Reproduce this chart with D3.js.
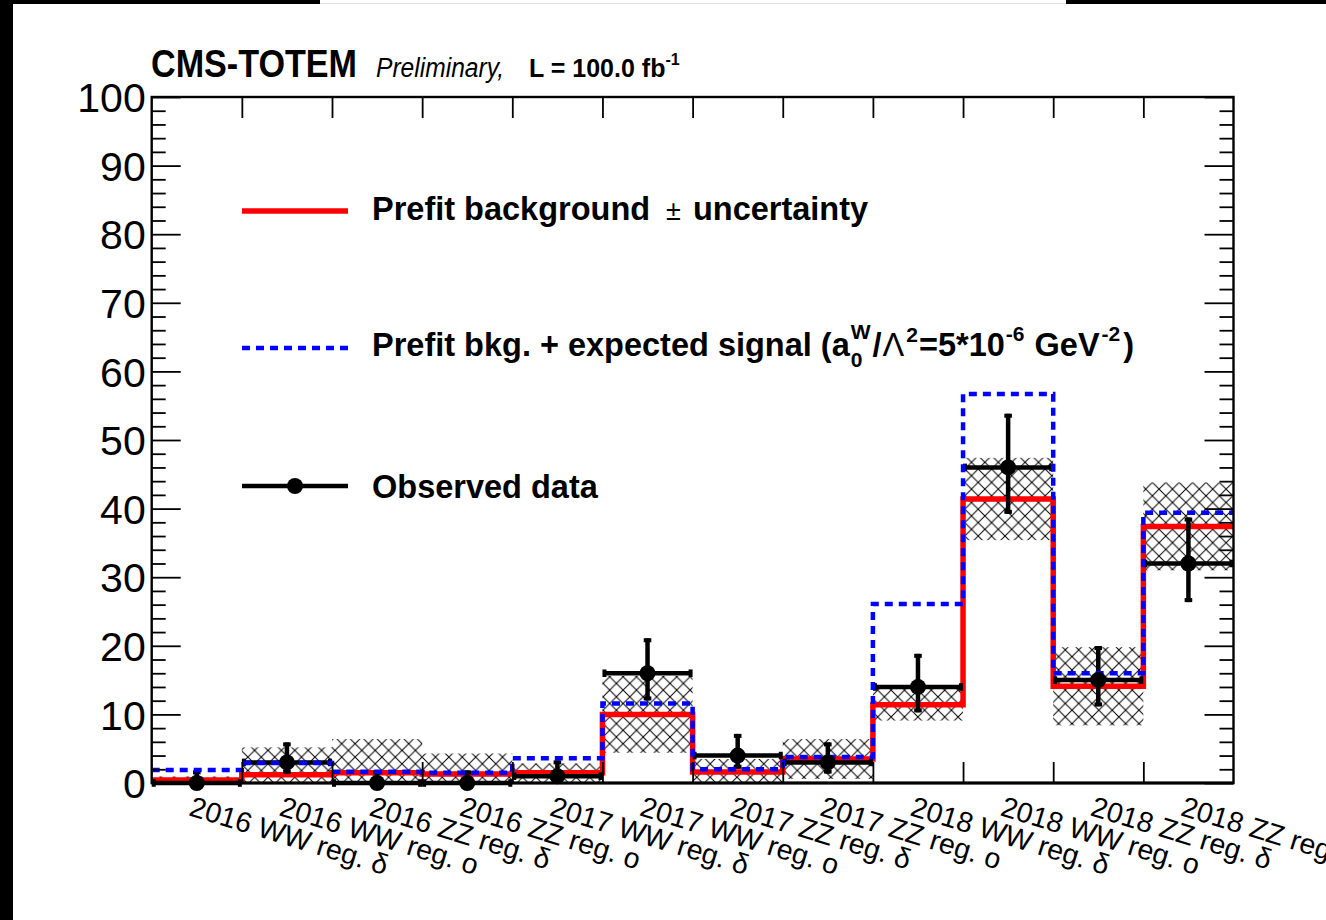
<!DOCTYPE html>
<html>
<head>
<meta charset="utf-8">
<script src="https://cdn.jsdelivr.net/npm/d3@7"></script>
<style>
  html, body { margin: 0; padding: 0; background: #fff; }
  svg { display: block; }
  text { font-family: "Liberation Sans", Arial, Helvetica, sans-serif; fill: #000; }
</style>
</head>
<body>
<svg id="chart" width="1326" height="920"></svg>
<script>
// Signal-region yields per category
const categories = [
  "2016 WW reg. δ", "2016 WW reg. o", "2016 ZZ reg. δ", "2016 ZZ reg. o",
  "2017 WW reg. δ", "2017 WW reg. o", "2017 ZZ reg. δ", "2017 ZZ reg. o",
  "2018 WW reg. δ", "2018 WW reg. o", "2018 ZZ reg. δ", "2018 ZZ reg. o"
];
const prefitBkg     = [0.45, 1.2, 1.5, 1.3, 1.5, 10.0, 1.6, 3.5, 11.4, 41.4, 14.1, 37.4];
const prefitBkgUnc  = [0.5, 4.0, 4.9, 3.0, 1.35, 5.6, 1.9, 2.9, 2.3, 6.0, 5.7, 6.4];
const bkgPlusSignal = [1.9, 2.9, 1.65, 1.5, 3.6, 11.6, 2.0, 3.8, 26.1, 56.7, 16.0, 39.4];
const observed      = [0, 3, 0, 0, 1, 16, 4, 3, 14, 46, 15, 32];
const observedErrLo = [0, 1.63, 0, 0, 0.83, 3.96, 1.91, 1.63, 3.70, 6.76, 3.83, 5.63];
const observedErrHi = [1.84, 2.92, 1.84, 1.84, 2.30, 5.10, 3.16, 2.92, 4.83, 7.83, 4.96, 6.70];
const yMajorTicks = [0, 10, 20, 30, 40, 50, 60, 70, 80, 90, 100];

const svg = d3.select("#chart");
const W = 1326, H = 920;
const frame = { left: 151.7, right: 1233.5, top: 97, bottom: 783 };

// page edges
svg.append("rect").attr("x", 0).attr("y", 0).attr("width", W).attr("height", H).attr("fill", "#fff");
svg.append("rect").attr("x", 0).attr("y", 0).attr("width", 13).attr("height", H).attr("fill", "#000");
svg.append("rect").attr("x", 0).attr("y", 0).attr("width", 320).attr("height", 4).attr("fill", "#000");
svg.append("rect").attr("x", 1066).attr("y", 0).attr("width", W - 1066).attr("height", 4).attr("fill", "#000");
svg.append("line").attr("x1", 320).attr("x2", 1066).attr("y1", 3.5).attr("y2", 3.5)
  .attr("stroke", "#e2e2e2").attr("stroke-width", 1);

const x = d3.scaleBand().domain(categories).range([frame.left, frame.right]).padding(0);
const xEdge = d3.scaleLinear().domain([0, categories.length]).range([frame.left, frame.right]);
const y = d3.scaleLinear().domain([0, 100]).range([frame.bottom, frame.top]);
const bw = x.bandwidth();

// cross-hatch pattern for the background uncertainty band
const defs = svg.append("defs");
const pat = defs.append("pattern").attr("id", "xhatch").attr("patternUnits", "userSpaceOnUse")
  .attr("width", 13.4).attr("height", 13.4);
pat.append("path").attr("d", "M0,0L13.4,13.4M13.4,0L0,13.4")
  .attr("stroke", "#000").attr("stroke-width", 1).attr("fill", "none");
defs.append("clipPath").attr("id", "plotclip").append("rect")
  .attr("x", frame.left).attr("y", frame.top)
  .attr("width", frame.right - frame.left).attr("height", frame.bottom - frame.top);

const plot = svg.append("g").attr("clip-path", "url(#plotclip)");

// uncertainty band
plot.selectAll("rect.unc").data(categories).join("rect").attr("class", "unc")
  .attr("x", d => x(d))
  .attr("width", bw)
  .attr("y", (d, i) => y(prefitBkg[i] + prefitBkgUnc[i]))
  .attr("height", (d, i) => y(Math.max(0, prefitBkg[i] - prefitBkgUnc[i])) - y(prefitBkg[i] + prefitBkgUnc[i]))
  .attr("fill", "url(#xhatch)");

// step outline helper
function stepPoints(vals) {
  const pts = [];
  vals.forEach((v, i) => { pts.push([xEdge(i), y(v)]); pts.push([xEdge(i + 1), y(v)]); });
  return pts;
}
const line = d3.line();

plot.append("path").attr("d", line(stepPoints(prefitBkg)))
  .attr("fill", "none").attr("stroke", "#ff0000").attr("stroke-width", 5.5);

// observed data: horizontal bin-width bars and Poisson error bars
const dataG = svg.append("g");
const cap = 3.8;
const dw = 4.5;
categories.forEach((c, i) => {
  const x0 = x(c), x1 = x(c) + bw, xc = x(c) + bw / 2, yc = y(observed[i]);
  dataG.append("line").attr("x1", x0 + 1).attr("x2", x1 - 1).attr("y1", yc).attr("y2", yc)
    .attr("stroke", "#000").attr("stroke-width", dw);
  dataG.append("line").attr("x1", x0 + 2).attr("x2", x0 + 2).attr("y1", yc - cap).attr("y2", yc + cap)
    .attr("stroke", "#000").attr("stroke-width", 4);
  dataG.append("line").attr("x1", x1 - 2).attr("x2", x1 - 2).attr("y1", yc - cap).attr("y2", yc + cap)
    .attr("stroke", "#000").attr("stroke-width", 4);
  const yHi = y(observed[i] + observedErrHi[i]);
  dataG.append("line").attr("x1", xc).attr("x2", xc).attr("y1", yc).attr("y2", yHi)
    .attr("stroke", "#000").attr("stroke-width", dw);
  dataG.append("line").attr("x1", xc - cap).attr("x2", xc + cap).attr("y1", yHi + 2).attr("y2", yHi + 2)
    .attr("stroke", "#000").attr("stroke-width", 4);
  if (observedErrLo[i] > 0) {
    const yLo = y(observed[i] - observedErrLo[i]);
    dataG.append("line").attr("x1", xc).attr("x2", xc).attr("y1", yc).attr("y2", yLo)
      .attr("stroke", "#000").attr("stroke-width", dw);
    dataG.append("line").attr("x1", xc - cap).attr("x2", xc + cap).attr("y1", yLo - 2).attr("y2", yLo - 2)
      .attr("stroke", "#000").attr("stroke-width", 4);
  }
});

svg.append("path").attr("d", line(stepPoints(bkgPlusSignal)))
  .attr("fill", "none").attr("stroke", "#0000ff").attr("stroke-width", 4.5)
  .attr("stroke-dasharray", "8,6");

svg.append("g").selectAll("circle").data(categories).join("circle")
  .attr("cx", d => x(d) + bw / 2)
  .attr("cy", (d, i) => y(observed[i]))
  .attr("r", 8).attr("fill", "#000");

// axes
const axisStyle = g => {
  g.select(".domain").remove();
  g.selectAll(".tick line").attr("stroke", "#000").attr("stroke-width", 1.8);
};
const yMinor = d3.range(0, 101, 2).filter(v => v % 10 !== 0);

svg.append("g").attr("transform", `translate(${frame.left},0)`)
  .call(d3.axisLeft(y).tickValues(yMajorTicks).tickSize(-29).tickFormat(d3.format("d")))
  .call(axisStyle)
  .call(g => g.selectAll(".tick text").attr("font-size", 41).attr("font-family", "Liberation Sans, Arial, sans-serif")
    .attr("x", -6).attr("text-anchor", "end").attr("dy", "0.36em"));
svg.append("g").attr("transform", `translate(${frame.left},0)`)
  .call(d3.axisLeft(y).tickValues(yMinor).tickSize(-14).tickFormat(""))
  .call(axisStyle);
svg.append("g").attr("transform", `translate(${frame.right},0)`)
  .call(d3.axisRight(y).tickValues(yMajorTicks).tickSize(-29).tickFormat(""))
  .call(axisStyle);
svg.append("g").attr("transform", `translate(${frame.right},0)`)
  .call(d3.axisRight(y).tickValues(yMinor).tickSize(-14).tickFormat(""))
  .call(axisStyle);

const innerEdges = d3.range(1, categories.length);
svg.append("g").attr("transform", `translate(0,${frame.top})`)
  .call(d3.axisTop(xEdge).tickValues(innerEdges).tickSize(-21).tickFormat(""))
  .call(axisStyle);
svg.append("g").attr("transform", `translate(0,${frame.bottom})`)
  .call(d3.axisBottom(xEdge).tickValues(innerEdges).tickSize(-21).tickFormat(""))
  .call(axisStyle);

// frame
svg.append("rect").attr("x", frame.left).attr("y", frame.top)
  .attr("width", frame.right - frame.left).attr("height", frame.bottom - frame.top)
  .attr("fill", "none").attr("stroke", "#000").attr("stroke-width", 2.4);
svg.append("line").attr("x1", frame.left).attr("x2", frame.right)
  .attr("y1", frame.bottom).attr("y2", frame.bottom).attr("stroke", "#000").attr("stroke-width", 3);

// category labels, rotated
const labelAngle = 17;
svg.append("g").selectAll("text").data(categories).join("text")
  .attr("transform", d => `translate(${x(d) + bw / 2 - 9},${frame.bottom + 32}) rotate(${labelAngle})`)
  .attr("font-size", 28.5)
  .text(d => d);

// header
svg.append("text").attr("x", 151).attr("y", 77).attr("font-size", 38).attr("font-weight", "bold")
  .attr("textLength", 206).attr("lengthAdjust", "spacingAndGlyphs").text("CMS-TOTEM");
svg.append("text").attr("x", 376).attr("y", 77).attr("font-size", 27).attr("font-style", "italic")
  .attr("textLength", 128).attr("lengthAdjust", "spacingAndGlyphs").text("Preliminary,");
const lumi = svg.append("text").attr("x", 529).attr("y", 77).attr("font-size", 25).attr("font-weight", "bold");
lumi.append("tspan").text("L = 100.0 fb");
lumi.append("tspan").attr("font-size", 16).attr("dy", -12).text("-1");

// rich text runs with super/subscripts
function richText(x0, base, segs) {
  let cx = x0;
  let stackX = null;
  segs.forEach(s => {
    if (s.pre) cx += s.pre;
    const t = svg.append("text").attr("x", s.back ? stackX : cx).attr("y", base + (s.shift || 0))
      .attr("font-size", s.size).attr("font-weight", s.weight || "bold")
      .attr("xml:space", "preserve").style("white-space", "pre").text(s.t);
    if (s.family) t.attr("font-family", s.family);
    const w = t.node().getComputedTextLength();
    if (s.back) { cx = Math.max(cx, stackX + w); }
    else { stackX = cx; cx = cx + w; }
    if (s.gap) cx += s.gap;
  });
}

// legend
const legX0 = 242, legX1 = 348, legText = 372, legSize = 32.5, supSize = 21;
svg.append("line").attr("x1", legX0).attr("x2", legX1).attr("y1", 211).attr("y2", 211)
  .attr("stroke", "#ff0000").attr("stroke-width", 5.5);
richText(legText, 220, [
  { t: "Prefit background", size: legSize, gap: 16 },
  { t: "±", size: 27, weight: "normal", gap: 12 },
  { t: "uncertainty", size: legSize }
]);

svg.append("line").attr("x1", legX0).attr("x2", legX1).attr("y1", 348).attr("y2", 348)
  .attr("stroke", "#0000ff").attr("stroke-width", 4.5).attr("stroke-dasharray", "8,6");
richText(legText, 356, [
  { t: "Prefit bkg. + expected signal (a", size: legSize },
  { t: "W", size: supSize, shift: -17, pre: 1 },
  { t: "0", size: supSize, shift: 11, back: true },
  { t: "/", size: legSize, pre: 2 },
  { t: "Λ", size: legSize, weight: "normal", pre: 1 },
  { t: "2", size: supSize, shift: -14, pre: 2 },
  { t: "=5*10", size: legSize, pre: 1 },
  { t: "-6", size: supSize, shift: -15, pre: 1, gap: 10 },
  { t: "GeV", size: legSize },
  { t: "-2", size: supSize, shift: -15, pre: 2, gap: 3 },
  { t: ")", size: legSize }
]);

svg.append("line").attr("x1", legX0).attr("x2", legX1).attr("y1", 486).attr("y2", 486)
  .attr("stroke", "#000").attr("stroke-width", 4.5);
svg.append("circle").attr("cx", (legX0 + legX1) / 2).attr("cy", 486).attr("r", 8).attr("fill", "#000");
richText(legText, 498, [{ t: "Observed data", size: legSize }]);
</script>
</body>
</html>
